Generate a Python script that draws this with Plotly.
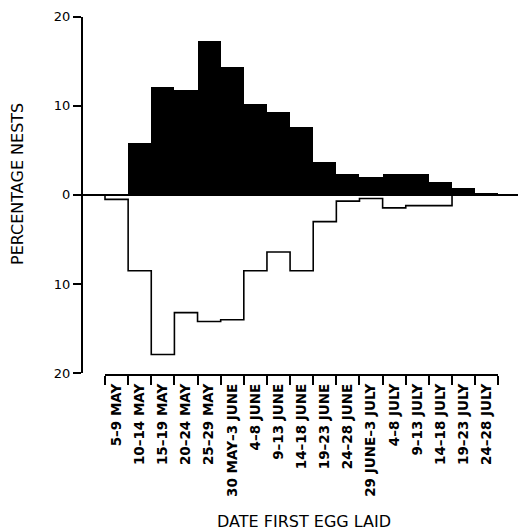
import plotly.graph_objects as go

# ---- data ----
periods = ["5–9 MAY", "10–14 MAY", "15–19 MAY", "20–24 MAY", "25–29 MAY",
           "30 MAY–3 JUNE", "4–8 JUNE", "9–13 JUNE", "14–18 JUNE", "19–23 JUNE",
           "24–28 JUNE", "29 JUNE–3 JULY", "4–8 JULY", "9–13 JULY", "14–18 JULY",
           "19–23 JULY", "24–28 JULY"]
upper_pct = [0.2, 5.9, 12.1, 11.8, 17.3, 14.4, 10.2, 9.4, 7.7, 3.8,
             2.4, 2.1, 2.4, 2.4, 1.5, 0.8, 0.3]
lower_pct = [0.5, 8.5, 17.9, 13.2, 14.2, 14.0, 8.5, 6.4, 8.5, 3.0,
             0.7, 0.4, 1.45, 1.2, 1.2, 0.0, 0.0]
y_tick_vals = [-20, -10, 0, 10, 20]
y_tick_text = ["20", "10", "0", "10", "20"]

# ---- geometry (target pixels in the 526x531 window; page has 8px body margin) ----
OFF = 8
W, H = 526 - OFF, 531 - OFF
PLOT_L, PLOT_R, PLOT_T, PLOT_B = 83, 522, 12, 375
ML, MR, MT, MB = PLOT_L - OFF, W - (PLOT_R - OFF), PLOT_T - OFF, H - (PLOT_B - OFF)
PW = PLOT_R - PLOT_L
PH = PLOT_B - PLOT_T
X_FIRST, X_LAST = 105.0, 498.3          # pixel of first / last bin edge
n = len(periods)
unit = (X_LAST - X_FIRST) / n


def px_x(p):
    return (p - PLOT_L) / PW


def px_y(p):
    return (PLOT_B - p) / PH


x_range = [-(X_FIRST - PLOT_L) / unit, n + (PLOT_R - X_LAST) / unit]
dom2 = [px_x(X_FIRST), px_x(X_LAST)]

centers = [i + 0.5 for i in range(n)]
edges = list(range(n + 1))

fig = go.Figure()

# black histogram above zero
fig.add_trace(go.Bar(x=centers, y=upper_pct, width=1.0,
                     marker=dict(color="black", line=dict(width=0)),
                     xaxis="x", yaxis="y", showlegend=False, hoverinfo="skip"))

# open step histogram below zero
step_x = [0] + list(range(n)) + [n]
step_y = [0] + [-v for v in lower_pct] + [0]
fig.add_trace(go.Scatter(x=step_x, y=step_y, mode="lines",
                         line=dict(color="black", width=1.6, shape="hv"),
                         xaxis="x", yaxis="y", showlegend=False, hoverinfo="skip"))

# helper traces so the bottom axes are drawn
fig.add_trace(go.Scatter(x=edges, y=[None] * len(edges), mode="markers",
                         xaxis="x2", yaxis="y", showlegend=False, hoverinfo="skip"))
fig.add_trace(go.Scatter(x=centers, y=[None] * n, mode="markers",
                         xaxis="x3", yaxis="y", showlegend=False, hoverinfo="skip"))

fig.update_layout(
    width=W, height=H,
    margin=dict(l=ML, r=MR, t=MT, b=MB, pad=0),
    paper_bgcolor="white", plot_bgcolor="rgba(0,0,0,0)",
    bargap=0,
    font=dict(family="DejaVu Sans", color="black"),
    xaxis=dict(domain=[0, 1], range=x_range, visible=False, fixedrange=True,
               automargin=False),
    xaxis2=dict(domain=dom2, range=[0, n], anchor="free", position=0,
                showline=True, linecolor="black", linewidth=2,
                ticks="outside", ticklen=9, tickwidth=1.5, tickcolor="black",
                tickvals=edges, showticklabels=False, showgrid=False,
                zeroline=False, automargin=False),
    xaxis3=dict(domain=dom2, range=[0, n], anchor="free", position=0,
                showline=False, ticks="", tickvals=centers, ticktext=periods,
                tickangle=-90, ticklabelstandoff=5,
                tickfont=dict(family="DejaVu Sans", size=13.5, weight="bold",
                              color="black"),
                showgrid=False, zeroline=False, automargin=False),
    yaxis=dict(domain=[px_y(373.3), px_y(16.5)], range=[-20, 20], anchor="x",
               showline=True, linecolor="black", linewidth=2,
               ticks="outside", ticklen=8, tickwidth=1.5, tickcolor="black",
               tickvals=y_tick_vals, ticktext=y_tick_text,
               ticklabeloverflow="allow", automargin=False,
               tickfont=dict(family="DejaVu Sans", size=13, color="black"),
               showgrid=False, zeroline=True, zerolinecolor="black",
               zerolinewidth=2),
    annotations=[
        dict(text="PERCENTAGE NESTS", xref="paper", yref="paper",
             x=px_x(17), y=px_y(184), xanchor="center", yanchor="middle",
             textangle=-90, showarrow=False,
             font=dict(family="DejaVu Sans", size=16, color="black")),
        dict(text="DATE FIRST EGG LAID", xref="paper", yref="paper",
             x=px_x(303.5), y=px_y(521), xanchor="center", yanchor="middle",
             showarrow=False,
             font=dict(family="DejaVu Sans", size=16, color="black")),
    ],
)

fig.write_html("out.html")
